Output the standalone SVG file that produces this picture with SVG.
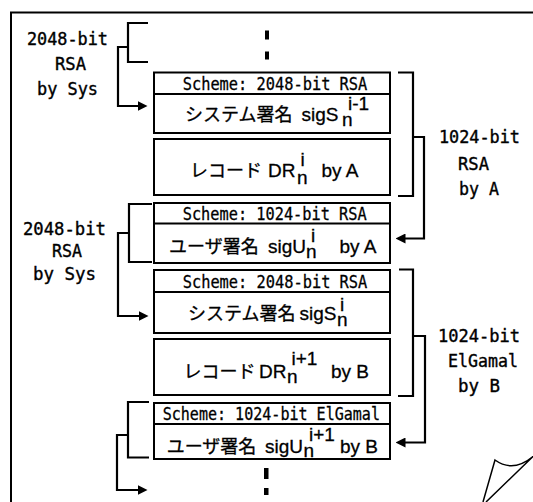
<svg xmlns="http://www.w3.org/2000/svg" width="533" height="502" viewBox="0 0 533 502">
<style>
.box{fill:#fff;stroke:#000;stroke-width:2}
.sep{stroke:#000;stroke-width:2}
.conn{fill:none;stroke:#000;stroke-width:2.2}
.frame{fill:none;stroke:#000;stroke-width:2}
.mono{font-family:"DejaVu Sans Mono","Liberation Mono",monospace;font-size:18.5px;fill:#000;stroke:#000;stroke-width:0.4}
.hdr{font-family:"DejaVu Sans Mono","Liberation Mono",monospace;font-size:17.5px;fill:#000;stroke:#000;stroke-width:0.3}
.jp{font-family:"Noto Sans CJK JP","Noto Sans",sans-serif;font-size:18px;fill:#000;stroke:#000;stroke-width:0.3}
.lat{font-family:"Liberation Sans",Arial,sans-serif;font-size:19px;fill:#000;stroke:#000;stroke-width:0.3}
</style>
<defs>
<marker id="ah" viewBox="0 0 10 10" refX="0.5" refY="5" markerWidth="10" markerHeight="10" markerUnits="userSpaceOnUse" orient="auto">
<path d="M0,0 L10,5 L0,10 z" fill="#000"/>
</marker>
</defs>
<rect width="533" height="502" fill="#fff"/>
<path class="frame" d="M11,502 V12.5 H533"/>
<path fill="none" stroke="#000" stroke-width="1.5" d="M483,502 L495,460 Q513,473 533,456.5 M533,456.5 L486,502"/>

<g id="ellipsis-top">
<rect x="265" y="30.5" width="4" height="9"/>
<rect x="265" y="51.5" width="4" height="8"/>
</g>
<g id="ellipsis-bottom">
<rect x="264" y="468" width="4.5" height="11"/>
<rect x="264" y="488" width="4.5" height="7"/>
</g>

<g id="node-sys-sig-prev">
<rect class="box" x="154" y="72.5" width="236" height="60.5"/>
<line class="sep" x1="154" y1="94" x2="390" y2="94"/>
<text class="hdr" x="182.7" y="89.5" textLength="184.6" lengthAdjust="spacingAndGlyphs">Scheme: 2048-bit RSA</text>
<text y="120.5"><tspan class="jp" x="185">システム署名</tspan><tspan class="lat" x="301.5">sigS</tspan><tspan class="lat" x="342" y="125.5">n</tspan><tspan class="lat" x="348" y="109.5">i-1</tspan></text>
</g>

<g id="node-record-a">
<rect class="box" x="154" y="139" width="236" height="56"/>
<text y="177.3"><tspan class="jp" x="190">レコード</tspan><tspan class="lat" x="268">DR</tspan><tspan class="lat" x="297" y="184">n</tspan><tspan class="lat" x="300.5" y="166">i</tspan><tspan class="lat" x="321.5" y="177.3">by A</tspan></text>
</g>

<g id="node-user-sig-a">
<rect class="box" x="154" y="203" width="236" height="60"/>
<line class="sep" x1="154" y1="223.5" x2="390" y2="223.5"/>
<text class="hdr" x="182.7" y="219.5" textLength="184" lengthAdjust="spacingAndGlyphs">Scheme: 1024-bit RSA</text>
<text y="252.5"><tspan class="jp" x="169">ユーザ署名</tspan><tspan class="lat" x="268">sigU</tspan><tspan class="lat" x="306" y="257.5">n</tspan><tspan class="lat" x="311" y="242">i</tspan><tspan class="lat" x="339.5" y="252.5">by A</tspan></text>
</g>

<g id="node-sys-sig">
<rect class="box" x="154" y="270" width="236" height="63"/>
<line class="sep" x1="154" y1="292" x2="390" y2="292"/>
<text class="hdr" x="182.7" y="287.5" textLength="184.6" lengthAdjust="spacingAndGlyphs">Scheme: 2048-bit RSA</text>
<text y="320"><tspan class="jp" x="188">システム署名</tspan><tspan class="lat" x="299.5">sigS</tspan><tspan class="lat" x="337" y="326">n</tspan><tspan class="lat" x="340" y="310.5">i</tspan></text>
</g>

<g id="node-record-b">
<rect class="box" x="154" y="339" width="236" height="56"/>
<text y="377.5"><tspan class="jp" x="183.5">レコード</tspan><tspan class="lat" x="259">DR</tspan><tspan class="lat" x="287" y="382.5">n</tspan><tspan class="lat" x="291.5" y="365">i+1</tspan><tspan class="lat" x="331" y="377.5">by B</tspan></text>
</g>

<g id="node-user-sig-b">
<rect class="box" x="154" y="403" width="236" height="56"/>
<line class="sep" x1="154" y1="424" x2="390" y2="424"/>
<text class="hdr" x="162.7" y="420" textLength="217.3" lengthAdjust="spacingAndGlyphs">Scheme: 1024-bit ElGamal</text>
<text y="452.5"><tspan class="jp" x="166.7">ユーザ署名</tspan><tspan class="lat" x="265">sigU</tspan><tspan class="lat" x="303.5" y="457">n</tspan><tspan class="lat" x="309" y="440.5">i+1</tspan><tspan class="lat" x="340" y="452.5">by B</tspan></text>
</g>

<g id="connectors">
<path class="conn" d="M148,23 H128 V62 H148"/>
<path class="conn" d="M128,47 H118 V106 H138" marker-end="url(#ah)"/>
<path class="conn" d="M152,204 H129 V262 H152"/>
<path class="conn" d="M129,233 H118 V316 H139" marker-end="url(#ah)"/>
<path class="conn" d="M149,402 H128 V457.5 H149"/>
<path class="conn" d="M128,435 H117 V490 H138" marker-end="url(#ah)"/>
<path class="conn" d="M398,72.5 H413 V196 H398"/>
<path class="conn" d="M413,137 H424 V238.5 H405" marker-end="url(#ah)"/>
<path class="conn" d="M399,269.5 H413 V396 H398"/>
<path class="conn" d="M413,336 H425 V442.5 H405" marker-end="url(#ah)"/>
</g>

<g id="label-sys-1">
<text class="mono" x="27" y="45" textLength="81" lengthAdjust="spacingAndGlyphs">2048-bit</text>
<text class="mono" x="55" y="70" textLength="31" lengthAdjust="spacingAndGlyphs">RSA</text>
<text class="mono" x="37" y="95" textLength="61" lengthAdjust="spacingAndGlyphs">by Sys</text>
</g>
<g id="label-sys-2">
<text class="mono" x="23" y="235" textLength="83" lengthAdjust="spacingAndGlyphs">2048-bit</text>
<text class="mono" x="52" y="257" textLength="30" lengthAdjust="spacingAndGlyphs">RSA</text>
<text class="mono" x="33" y="279.5" textLength="63" lengthAdjust="spacingAndGlyphs">by Sys</text>
</g>
<g id="label-a">
<text class="mono" x="439" y="143.3" textLength="81" lengthAdjust="spacingAndGlyphs">1024-bit</text>
<text class="mono" x="458" y="170" textLength="31" lengthAdjust="spacingAndGlyphs">RSA</text>
<text class="mono" x="459" y="195" textLength="40" lengthAdjust="spacingAndGlyphs">by A</text>
</g>
<g id="label-b">
<text class="mono" x="438" y="341.7" textLength="82" lengthAdjust="spacingAndGlyphs">1024-bit</text>
<text class="mono" x="448" y="366.7" textLength="70" lengthAdjust="spacingAndGlyphs">ElGamal</text>
<text class="mono" x="458" y="391.7" textLength="42" lengthAdjust="spacingAndGlyphs">by B</text>
</g>
</svg>
